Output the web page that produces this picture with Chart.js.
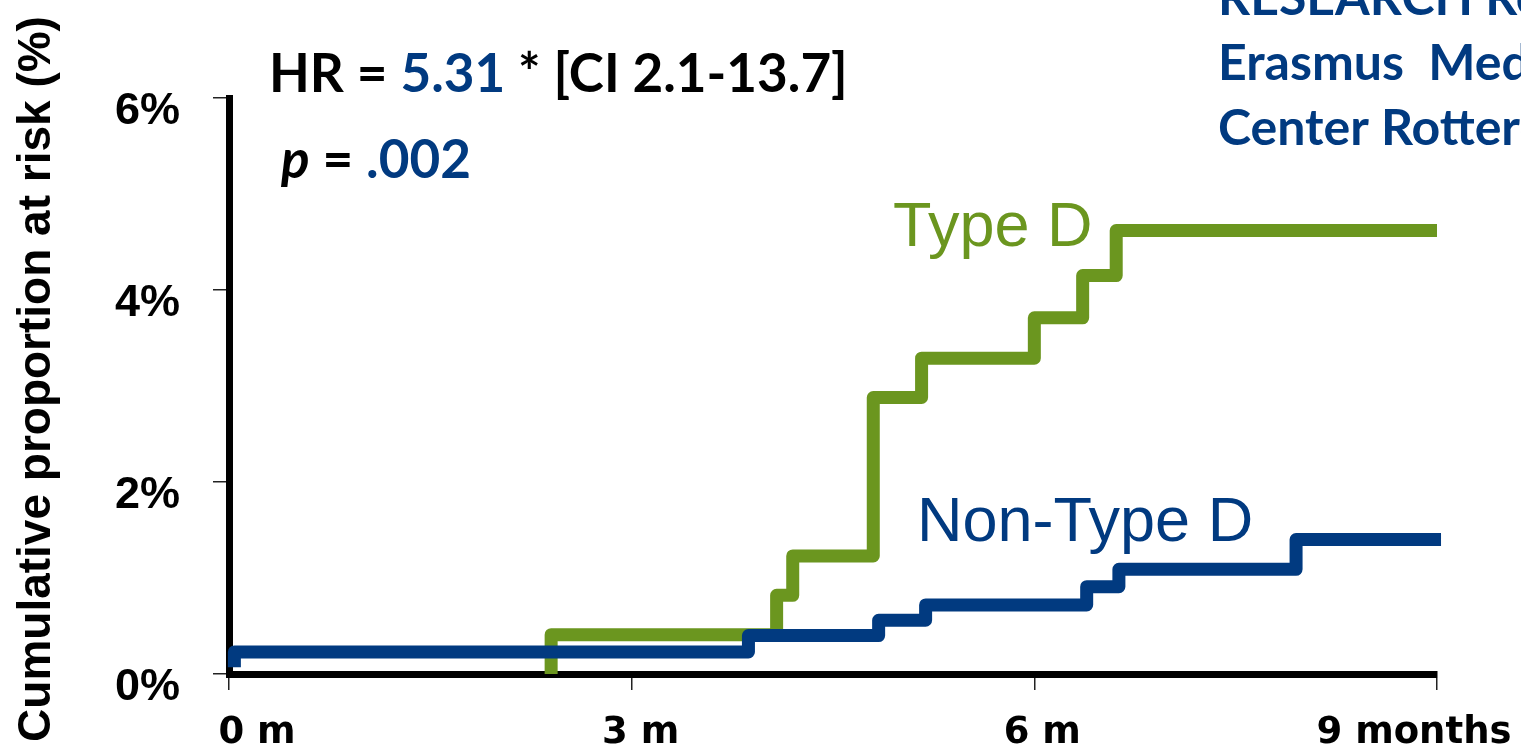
<!DOCTYPE html>
<html>
<head>
<meta charset="utf-8">
<script src="https://cdn.jsdelivr.net/npm/chart.js@4/dist/chart.umd.min.js"></script>
<style>
  html, body { margin: 0; padding: 0; background: #ffffff; }
  #wrap { width: 1521px; height: 749px; }
</style>
</head>
<body>
<div id="wrap"><canvas id="km" width="1521" height="749"></canvas></div>
<script>
// Kaplan-Meier style cumulative incidence, months since inclusion vs % at risk
const typeDMonths    = [2.40, 2.40, 4.08, 4.20, 4.80, 5.16, 6.00, 6.36, 6.61, 9.00];
const typeDPercent   = [0.00, 0.41, 0.82, 1.23, 2.88, 3.29, 3.71, 4.15, 4.62, 4.62];
const nonTypeDMonths  = [0.04, 0.04, 3.87, 4.84, 5.19, 6.39, 6.63, 7.95, 9.03];
const nonTypeDPercent = [0.07, 0.23, 0.40, 0.56, 0.72, 0.91, 1.09, 1.40, 1.40];
const monthTicks  = [0, 3, 6, 9];
const monthLabels = ['0 m', '3 m', '6 m', '9 months'];
const percentTicks = [0, 2, 4, 6];

const GREEN = '#6b961f';
const BLUE  = '#013a80';

function points(xs, ys) { return xs.map((x, i) => ({ x: x, y: ys[i] })); }

// horizontal nudges for the month labels (centre of text relative to its tick)
const monthLabelNudge = [28, 9, 8, -23];

const annotations = {
  id: 'annotations',
  afterDraw(chart) {
    const ctx = chart.ctx;
    const xs = chart.scales.x;
    ctx.save();

    // month labels under the x axis
    ctx.font = 'bold 37px "DejaVu Sans"';
    ctx.fillStyle = '#000';
    ctx.textAlign = 'center';
    ctx.textBaseline = 'alphabetic';
    monthTicks.forEach((m, i) => {
      ctx.fillText(monthLabels[i], xs.getPixelForValue(m) + monthLabelNudge[i], 743);
    });

    // y axis title
    ctx.save();
    ctx.translate(50, 379);
    ctx.rotate(-Math.PI / 2);
    ctx.font = 'bold 46px "Liberation Sans"';
    ctx.textAlign = 'center';
    ctx.fillText('Cumulative proportion at risk (%)', 0, 0);
    ctx.restore();

    ctx.textAlign = 'left';

    // curve names
    ctx.font = '63px "Liberation Sans"';
    ctx.fillStyle = GREEN;
    ctx.fillText('Type D', 893, 246);
    ctx.fillStyle = BLUE;
    ctx.fillText('Non-Type D', 917, 541);

    // statistics, drawn as runs of differently coloured text
    function runs(parts, x, y) {
      parts.forEach(p => {
        ctx.font = p.font;
        ctx.fillStyle = p.color;
        ctx.fillText(p.text, x, y);
        x += ctx.measureText(p.text).width;
      });
    }
    const bold = 'bold 53px Lato';
    runs([
      { text: 'HR = ', font: bold, color: '#000' },
      { text: '5.31', font: bold, color: BLUE },
      { text: ' * [CI 2.1-13.7]', font: bold, color: '#000' }
    ], 269, 92);
    runs([
      { text: 'p', font: 'italic bold 53px Lato', color: '#000' },
      { text: ' = ', font: bold, color: '#000' },
      { text: '.002', font: bold, color: BLUE }
    ], 281, 178);

    // study source block
    ctx.font = 'bold 50px Lato';
    ctx.fillStyle = BLUE;
    ctx.fillText('RESEARCH Registry', 1218, 15);
    ctx.fillText('Erasmus  Medical', 1218, 80);
    ctx.fillText('Center Rotterdam', 1218, 145);

    ctx.restore();
  }
};

const stepLine = (label, data, color, order) => ({
  label: label,
  data: data,
  borderColor: color,
  backgroundColor: color,
  borderWidth: 13,
  stepped: true,
  pointRadius: 0,
  fill: false,
  borderJoinStyle: 'round',
  borderCapStyle: 'butt',
  clip: false,
  order: order
});

new Chart(document.getElementById('km'), {
  type: 'line',
  data: {
    datasets: [
      stepLine('Type D', points(typeDMonths, typeDPercent), GREEN, 1),
      stepLine('Non-Type D', points(nonTypeDMonths, nonTypeDPercent), BLUE, 0)
    ]
  },
  options: {
    responsive: false,
    animation: false,
    events: [],
    layout: { padding: { left: 0, right: 84, top: 98, bottom: 0 } },
    plugins: { legend: { display: false }, tooltip: { enabled: false } },
    scales: {
      x: {
        type: 'linear',
        min: 0, max: 9,
        afterBuildTicks: s => { s.ticks = monthTicks.map(v => ({ value: v })); },
        afterFit: s => { s.height = 75; },
        ticks: { display: false },
        grid: { drawOnChartArea: false, drawTicks: true, tickLength: 16, color: '#222', lineWidth: 1.5 },
        border: { display: true, color: '#000', width: 7 }
      },
      y: {
        type: 'linear',
        min: 0, max: 6,
        afterBuildTicks: s => { s.ticks = percentTicks.map(v => ({ value: v })); },
        afterFit: s => { s.width = 229; },
        ticks: {
          callback: v => v + '%',
          font: { family: 'Liberation Sans', weight: 'bold', size: 45 },
          color: '#000',
          padding: 33,
          labelOffset: 14
        },
        grid: { drawOnChartArea: false, drawTicks: true, tickLength: 16, color: '#222', lineWidth: 1.5 },
        border: { display: true, color: '#000', width: 7 }
      }
    }
  },
  plugins: [annotations]
});
</script>
</body>
</html>
